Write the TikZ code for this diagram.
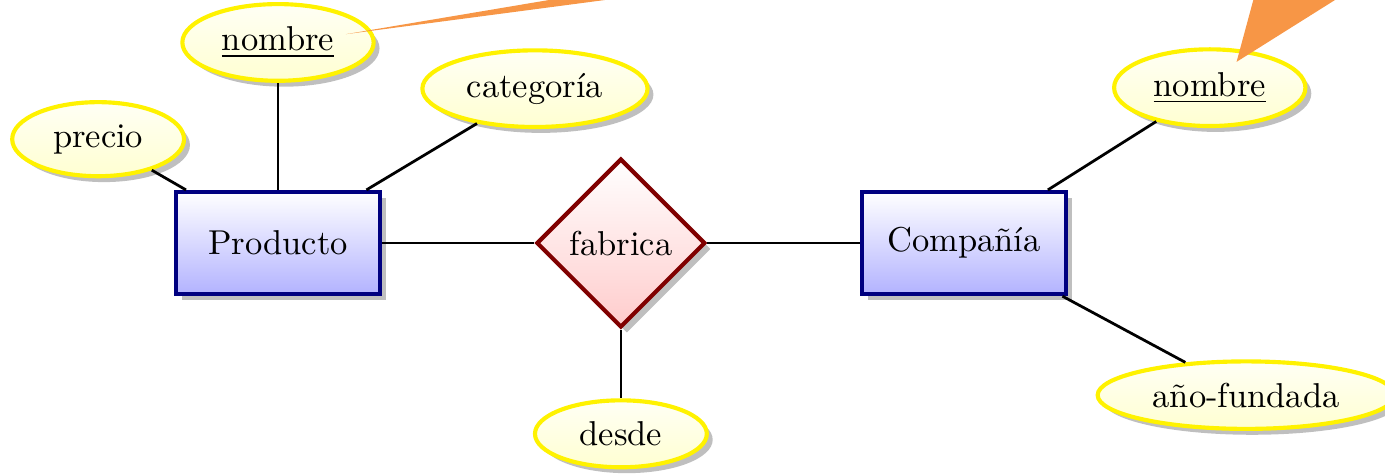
\documentclass[tikz,border=0pt]{standalone}
\usepackage{fontspec}
\usepackage{xcolor}
\usepackage{tikz}
\usetikzlibrary{shapes.geometric, shadows, positioning, calc}
\definecolor{keyorange}{RGB}{247,150,70}

\begin{document}
\begin{tikzpicture}[
    entity/.style={rectangle, draw=blue!50!black, very thick, top color=white, bottom color=blue!30, minimum width=2.08cm, minimum height=1.04cm, drop shadow={shadow xshift=0.6mm, shadow yshift=-0.6mm}},
    relationship/.style={diamond, aspect=1, draw=red!50!black, very thick, top color=white, bottom color=red!20, inner sep=3pt, drop shadow={shadow xshift=0.6mm, shadow yshift=-0.6mm}},
    attribute/.style={ellipse, draw=yellow, very thick, top color=yellow!4, bottom color=yellow!18, minimum width=1.75cm, drop shadow={shadow xshift=0.6mm, shadow yshift=-0.6mm}},
    link/.style={thick},
    keyarrow/.style={fill=keyorange}
]
\useasboundingbox (0,0) rectangle (14.104,-4.837);

% Entities and relationship
\node[entity] (producto) at (2.831,-2.475) {Producto};
\node[relationship, right=1.55cm of producto] (fabrica) {fabrica};
\node[entity, right=1.55cm of fabrica] (compania) {Compañía};

% Attributes of Producto
\node[attribute, above=1.09cm of producto] (nombreP) {\underline{nombre}};
\node[attribute, above left=0.235cm and 0.137cm of producto] (precio) {precio};
\node[attribute, above right=0.74cm and 0.73cm of producto] (categoria) {categoría};

% Attribute of fabrica
\node[attribute, below=0.70cm of fabrica] (desde) {desde};

% Attributes of Compañía
\node[attribute, above right=0.75cm and 0.74cm of compania] (nombreC) {\underline{nombre}};
\node[attribute, below right=0.75cm and 0.73cm of compania] (fundada) {año-fundada};

% Links
\draw[link] (producto) -- (fabrica);
\draw[link] (fabrica) -- (compania);
\draw[link] (producto) -- (nombreP);
\draw[link] (producto) -- (precio);
\draw[link] (producto) -- (categoria);
\draw[link] (fabrica) -- (desde);
\draw[link] (compania) -- (nombreC);
\draw[link] (compania) -- (fundada);

% Key markers
\coordinate (tipP) at ($(nombreP.center)+(0.69,0.084)$);
\coordinate (tipC) at ($(nombreC.center)+(0.273,0.263)$);
\coordinate (keyPa) at (5.591,0);
\coordinate (keyPb) at (6.161,0);
\coordinate (keyCa) at (12.763,0);
\coordinate (keyCb) at (13.595,0);
\fill[keyarrow] (tipP) -- (keyPa) -- (keyPb) -- cycle;
\fill[keyarrow] (tipC) -- (keyCa) -- (keyCb) -- cycle;

\end{tikzpicture}
\end{document}
